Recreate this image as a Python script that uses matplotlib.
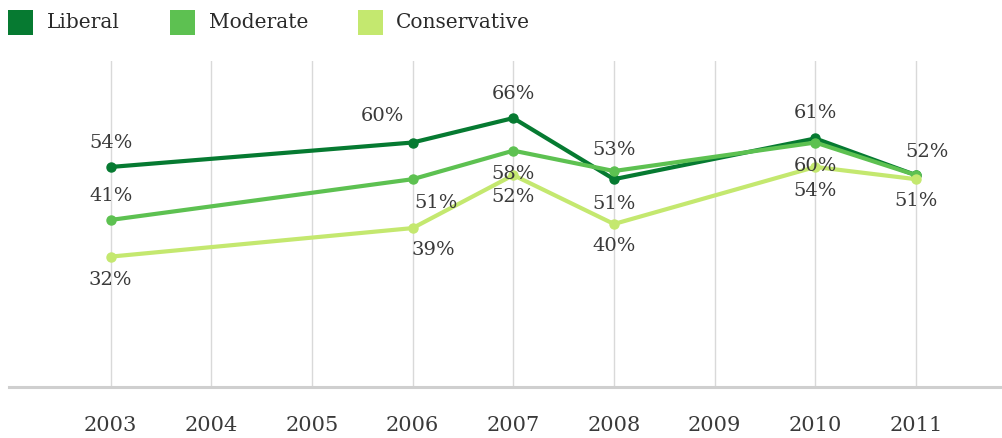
import matplotlib
matplotlib.use("Agg")
import matplotlib.pyplot as plt
from matplotlib.patches import Rectangle

plt.rcParams['font.family'] = ['DejaVu Serif']

years = [2003, 2006, 2007, 2008, 2010, 2011]
all_years = list(range(2003, 2012))
series = ['Liberal', 'Moderate', 'Conservative']
liberal = [54, 60, 66, 51, 61, 52]
moderate = [41, 51, 58, 53, 60, 52]
conservative = [32, 39, 52, 40, 54, 51]
colors = ['#067a31', '#5dc151', '#c4e86f']

# label offsets in points (dx, dy); None = no label
offsets = {
    'Liberal': [(0, 17), (-22, 19), (0, 17), (0, -18), (0, 18), (8, 17)],
    'Moderate': [(0, 17), (17, -17), (0, -17), (0, 15), (0, -17), None],
    'Conservative': [(0, -17), (15, -16), (0, -16), (0, -16), (0, -17), (0, -16)],
}

W, H = 1003, 438
fig = plt.figure(figsize=(W / 100, H / 100), dpi=100)
ax = fig.add_axes([0.009, 0.1164, 0.991, 0.7443])

for i, (name, vals, col) in enumerate(zip(series, [liberal, moderate, conservative], colors)):
    ax.plot(years, vals, color=col, lw=3, marker='o', ms=6.5, zorder=3 + i * 0.1)
    for x, v, off in zip(years, vals, offsets[name]):
        if off is None:
            continue
        ax.annotate(f'{v}%', (x, v), xytext=off, textcoords='offset points',
                    ha='center', va='center', fontsize=14, color='#3a3a3a', zorder=5)

ax.set_xlim(2001.99, 2011.865)
ax.set_ylim(0, 80)
ax.set_xticks(all_years)
ax.set_xticklabels([str(y) for y in all_years], fontsize=15, color='#3a3a3a')
ax.set_yticks([])
ax.tick_params(axis='x', length=0, pad=21)
ax.grid(axis='x', color='#d9d9d9', lw=1)
ax.set_axisbelow(True)
for s in ['top', 'left', 'right']:
    ax.spines[s].set_visible(False)
ax.spines['bottom'].set_color('#cfcfcf')
ax.spines['bottom'].set_linewidth(2.2)

# legend drawn by hand (pixel positions from the reference)
sq_x = [8, 170, 358]
txt_x = [47, 209, 396]
for name, col, sx, tx in zip(series, colors, sq_x, txt_x):
    fig.patches.append(Rectangle((sx / W, 1 - 35 / H), 25 / W, 25 / H,
                                 transform=fig.transFigure, facecolor=col, edgecolor='none'))
    fig.text(tx / W, 1 - 22 / H, name, ha='left', va='center', fontsize=14.5, color='#2a2a2a')

fig.savefig('out.png', dpi=100)
